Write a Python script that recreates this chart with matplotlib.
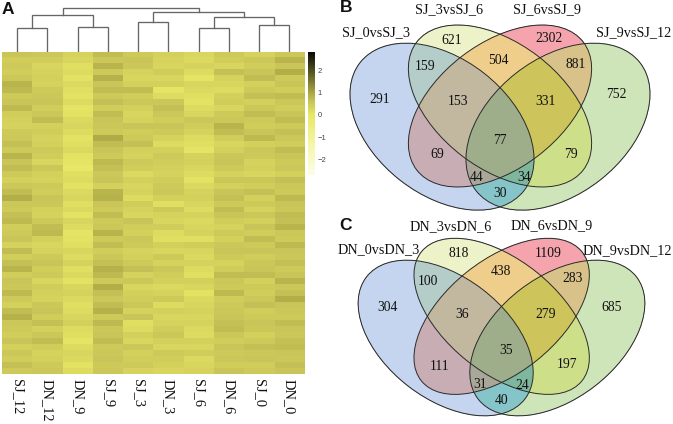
import numpy as np
import matplotlib
matplotlib.use("Agg")
import matplotlib.pyplot as plt
from matplotlib.colors import LinearSegmentedColormap, to_rgb
from matplotlib.patches import Ellipse

samples = ["SJ_12", "DN_12", "DN_9", "SJ_9", "SJ_3", "DN_3", "SJ_6", "DN_6", "SJ_0", "DN_0"]

# heatmap values read band by band, top to bottom
SJ_12 = [.6,.45,.5,.45,.55,.8,.75,.5,.6,.75,.45,.4,.35,.5,.55,.65,.5,.8,.6,.7,.5,.4,.55,.7,.9,.55,.5,.65,.75,.45,.5,.6,.35,.7,.45,.65,.8,.45,.6,.55,.75,.5,.4,.7,.85,.55,.5,.45,.6,.4,.55,.45,.65,.5]
DN_12 = [.55,.45,.3,.35,.4,.35,.5,.55,.6,.45,.55,.7,.4,.45,.35,.4,.5,.45,.3,.55,.4,.35,.5,.45,.6,.55,.4,.35,.5,.7,.75,.4,.3,.35,.5,.6,.45,.5,.3,.45,.4,.35,.55,.6,.45,.65,.4,.55,.7,.45,.35,.4,.5,.55]
DN_9 = [.35,.3,.15,.2,.1,.25,.15,.1,.2,.05,.1,.25,.3,.2,.1,.15,.25,.1,.05,.0,.15,.2,.1,.25,.3,.15,.25,.1,.3,.2,.05,.1,.15,.3,.2,.35,.15,.25,.1,.3,.35,.25,.15,.2,.3,.4,.2,.15,.05,.2,.3,.25,.1,.2]
SJ_9 = [.7,.55,.8,.5,.85,.6,.7,.5,.65,.45,.7,.6,.55,.5,.95,.7,.6,.5,.75,.65,.55,.6,.4,.8,.85,.6,.5,.7,.5,.55,.8,.5,.7,.45,.55,.65,.85,.75,.5,.9,.65,.55,.7,.85,.5,.75,.55,.6,.7,.5,.55,.6,.5,.55]
SJ_3 = [.5,.6,.55,.35,.3,.4,.7,.45,.55,.4,.3,.35,.6,.45,.5,.65,.4,.35,.5,.45,.25,.4,.3,.35,.2,.45,.35,.3,.6,.45,.4,.55,.5,.35,.4,.5,.65,.35,.55,.3,.4,.45,.55,.35,.6,.15,.2,.4,.3,.55,.4,.45,.5,.35]
DN_3 = [.4,.35,.3,.45,.3,.4,.05,.2,.55,.65,.55,.45,.6,.5,.35,.2,.4,.5,.45,.4,.35,.45,.5,.55,.4,.15,.5,.35,.3,.45,.2,.15,.4,.3,.5,.35,.55,.45,.4,.25,.35,.5,.2,.4,.3,.35,.45,.55,.4,.3,.5,.45,.4,.3]
SJ_6 = [.3,.25,.35,.2,.05,.3,.25,.15,.1,.2,.3,.55,.45,.35,.2,.15,.05,.35,.4,.3,.2,.1,.25,.35,.4,.3,.2,.35,.25,.3,.35,.15,.45,.3,.25,.35,.2,.15,.4,.3,.1,.25,.3,.35,.3,.35,.25,.2,.4,.3,.45,.25,.3,.35]
DN_6 = [.5,.45,.3,.65,.35,.3,.2,.4,.45,.3,.5,.55,.8,.7,.45,.3,.4,.55,.6,.5,.35,.55,.4,.6,.65,.5,.7,.6,.45,.35,.5,.4,.55,.6,.5,.35,.45,.7,.55,.5,.75,.45,.5,.55,.6,.65,.7,.55,.45,.6,.5,.55,.45,.6]
SJ_0 = [.35,.55,.45,.6,.7,.4,.5,.65,.4,.55,.7,.5,.45,.6,.75,.4,.55,.5,.35,.4,.3,.55,.45,.65,.4,.5,.35,.55,.4,.6,.45,.7,.5,.6,.45,.55,.6,.7,.4,.5,.45,.55,.65,.45,.5,.6,.55,.4,.5,.65,.55,.6,.45,.5]
DN_0 = [.55,.8,.6,.9,.5,.6,.45,.7,.55,.45,.6,.7,.5,.65,.55,.45,.7,.6,.5,.55,.4,.65,.55,.5,.75,.6,.55,.7,.65,.8,.55,.5,.75,.6,.55,.65,.5,.6,.8,.55,.65,.9,.6,.55,.5,.7,.6,.55,.65,.7,.6,.55,.65,.6]
heat_columns = [SJ_12, DN_12, DN_9, SJ_9, SJ_3, DN_3, SJ_6, DN_6, SJ_0, DN_0]

# dendrogram: left child, right child, height in px above the heatmap
merge_left = [0, 2, 10, 4, 6, 8, 14, 13, 12]
merge_right = [1, 3, 11, 5, 7, 9, 15, 16, 17]
merge_height = [23.7, 25, 37, 30, 23.7, 27.3, 34.7, 40.3, 44]

# Venn regions
b_labels = ["SJ_0vsSJ_3", "SJ_3vsSJ_6", "SJ_6vsSJ_9", "SJ_9vsSJ_12"]
c_labels = ["DN_0vsDN_3", "DN_3vsDN_6", "DN_6vsDN_9", "DN_9vsDN_12"]
b_counts = [291, 621, 2302, 752, 159, 504, 881, 153, 331, 69, 77, 79, 44, 34, 30]
c_counts = [304, 818, 1109, 685, 100, 438, 283, 36, 279, 111, 35, 197, 31, 24, 40]

# fill of each Venn region, keyed by membership (blue, yellow, red, green)
region_colors = {
    (1, 0, 0, 0): "#c5d5ef", (0, 1, 0, 0): "#eef3c8", (0, 0, 1, 0): "#f6a5ae", (0, 0, 0, 1): "#cfe6bb",
    (1, 1, 0, 0): "#b5cdc8", (0, 1, 1, 0): "#efcf8c", (0, 0, 1, 1): "#d8c28a", (1, 0, 1, 0): "#c8aeb4",
    (0, 1, 0, 1): "#cfe08a", (1, 0, 0, 1): "#85c4c8", (1, 1, 1, 0): "#c2b8a0", (0, 1, 1, 1): "#cdc45c",
    (1, 0, 1, 1): "#a9a898", (1, 1, 0, 1): "#7fb79e", (1, 1, 1, 1): "#9eae8a",
}

W, H = 673, 424
plt.rcParams["font.family"] = ["Liberation Serif", "DejaVu Serif"]
fig = plt.figure(figsize=(W / 100, H / 100), dpi=100)


def box(x0, y0, x1, y1):
    return [x0 / W, 1 - y1 / H, (x1 - x0) / W, (y1 - y0) / H]


cmap = LinearSegmentedColormap.from_list(
    "yb", [(0, "#fdfde8"), (0.25, "#f6f6a8"), (0.49, "#e9e766"), (0.60, "#c8c458"), (0.68, "#a6a240"), (0.85, "#505020"), (1, "#0a0a08")]
)
vmin, vmax = -2.7, 2.83

# heatmap
ax = fig.add_axes(box(2, 52, 304.5, 374.5))
matrix = np.array(heat_columns).T
ax.imshow(matrix, cmap=cmap, vmin=vmin, vmax=vmax, aspect="auto", interpolation="nearest")
ax.set_yticks([])
ax.set_xticks(range(len(samples)))
ax.set_xticklabels(samples, rotation=270, fontsize=10.4, color="#111111", ha="center", va="top")
ax.tick_params(axis="x", length=0, pad=3)
for s in ax.spines.values():
    s.set_visible(False)

# colorbar
cax = fig.add_axes(box(307.7, 52, 314.5, 175))
grad = np.linspace(vmax, vmin, 256).reshape(-1, 1)
cax.imshow(grad, cmap=cmap, vmin=vmin, vmax=vmax, aspect="auto", extent=[0, 1, vmin, vmax])
cax.set_xticks([])
cax.yaxis.tick_right()
cax.set_yticks([-2, -1, 0, 1, 2])
cax.set_yticklabels(["\u22122", "\u22121", "0", "1", "2"], fontsize=5.5, family="Liberation Sans", color="#444444")
cax.tick_params(axis="y", length=0, pad=2)
for s in cax.spines.values():
    s.set_visible(False)

# dendrogram
dax = fig.add_axes(box(2, 0, 304.5, 52))
dax.set_xlim(-0.5, 9.5)
dax.set_ylim(0, 52)
dax.axis("off")
nodes = {i: (float(i), 0.0) for i in range(10)}
for k, (l, r, h) in enumerate(zip(merge_left, merge_right, merge_height)):
    xl, yl = nodes[l]
    xr, yr = nodes[r]
    dax.plot([xl, xl, xr, xr], [yl, h, h, yr], color="#666666", lw=0.95, solid_joinstyle="miter")
    nodes[10 + k] = ((xl + xr) / 2, h)

# Venn + letters overlay, in pixel coordinates
ov = fig.add_axes([0, 0, 1, 1], facecolor="none")
ov.set_xlim(0, W)
ov.set_ylim(H, 0)
ov.axis("off")


def venn(ox, oy, ell, labels, label_xy, counts, count_xy):
    # region fills: each pixel coloured by which ellipses contain it
    x0, x1 = ox, ox + 333
    y0, y1 = oy, oy + 214
    step = 3
    xs = (np.arange((x1 - x0) * step) + 0.5) / step + x0
    ys = (np.arange((y1 - y0) * step) + 0.5) / step + y0
    X, Y = np.meshgrid(xs, ys)
    inside = []
    for cx, cy, a, b, ang in ell:
        t = np.radians(ang)
        dx, dy = X - (ox + cx / 3), Y - (oy + cy / 3)
        u = dx * np.cos(t) + dy * np.sin(t)
        v = -dx * np.sin(t) + dy * np.cos(t)
        inside.append((u / (a / 3)) ** 2 + (v / (b / 3)) ** 2 <= 1)
    rgba = np.zeros(X.shape + (4,))
    for key, col in region_colors.items():
        mask = np.ones(X.shape, bool)
        for m, ins in zip(key, inside):
            mask &= ins if m else ~ins
        rgba[mask] = (*to_rgb(col), 1)
    ov.imshow(rgba, extent=[x0, x1, y1, y0], interpolation="bilinear", aspect="auto", zorder=1)
    for (cx, cy, a, b, ang) in ell:
        ov.add_patch(Ellipse((ox + cx / 3, oy + cy / 3), 2 * a / 3, 2 * b / 3, angle=ang,
                             facecolor="none", edgecolor="#2a2a2a", lw=0.7, zorder=2))
    for t, (x, y) in zip(labels, label_xy):
        ov.text(ox + x / 3, oy + y / 3, t, fontsize=10.2, ha="center", va="center", color="#111111", zorder=3)
    for t, (x, y) in zip(counts, count_xy):
        ov.text(ox + x / 3, oy + y / 3, str(t), fontsize=9.8, ha="center", va="center", color="#111111", zorder=3)


b_ell = [(306, 380, 312, 204, 38), (480, 318, 315, 188, 37.5), (480, 318, 315, 188, -37.5), (654, 380, 312, 204, -38)]
c_ell = [(317, 384, 300, 183, 37.6), (485, 319, 309, 169, 38.8), (485, 319, 309, 169, -38.8), (652, 384, 300, 183, -37.6)]
b_label_xy = [(108, 97), (328, 30), (620, 30), (882, 97)]
c_label_xy = [(116, 119), (332, 50), (636, 48), (862, 123)]
b_count_xy = [(118, 298), (336, 120), (628, 115), (830, 285), (256, 200), (476, 180), (706, 192), (354, 305),
              (618, 305), (293, 465), (480, 420), (693, 463), (410, 532), (552, 532), (480, 580)]
c_count_xy = [(141, 292), (355, 130), (626, 130), (816, 292), (264, 214), (484, 185), (698, 207), (367, 314),
              (616, 314), (298, 468), (497, 420), (682, 464), (420, 525), (548, 527), (484, 572)]
venn(340, 0, b_ell, b_labels, b_label_xy, b_counts, b_count_xy)
venn(340, 210, c_ell, c_labels, c_label_xy, c_counts, c_count_xy)
ov.set_xlim(0, W)
ov.set_ylim(H, 0)

for t, x, y in [("A", 8, 9), ("B", 346, 8), ("C", 346, 225)]:
    ov.text(x, y, t, fontsize=12.5, fontweight="bold", family="Liberation Sans", ha="center", va="center", color="#111111", zorder=4)

fig.savefig("out.png", dpi=100)
